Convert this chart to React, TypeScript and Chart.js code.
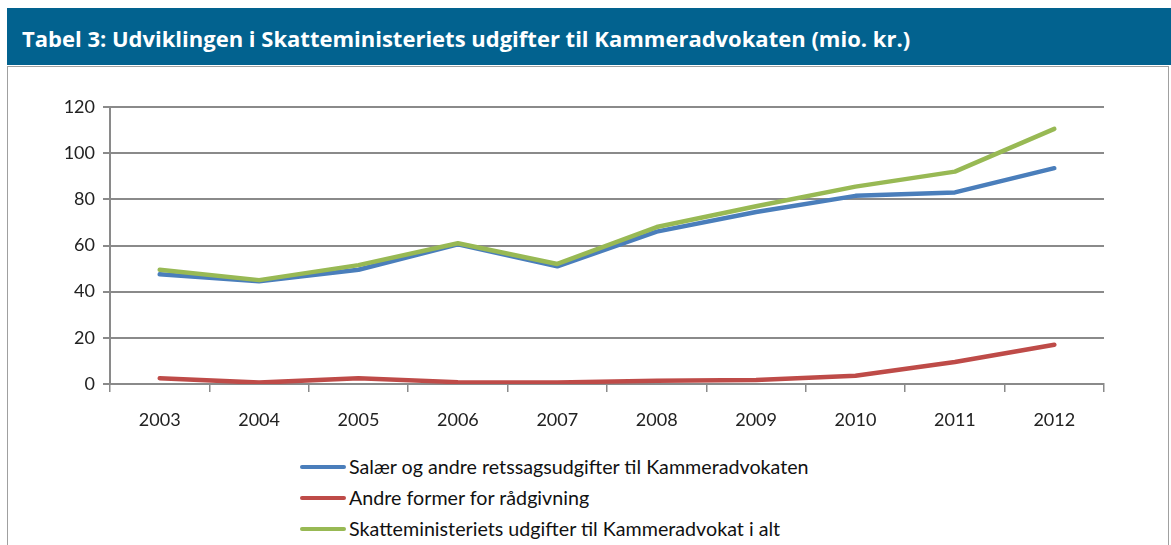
import React, { useEffect, useRef } from "react";
import { Chart, registerables } from "chart.js";

Chart.register(...registerables);

const title = "Tabel 3: Udviklingen i Skatteministeriets udgifter til Kammeradvokaten (mio. kr.)";
const years = ["2003", "2004", "2005", "2006", "2007", "2008", "2009", "2010", "2011", "2012"];
const salaer = [47.5, 44.5, 49.5, 60.5, 51, 66, 74.5, 81.5, 83, 93.5];
const andre = [2.5, 0.6, 2.5, 0.8, 0.7, 1.4, 1.7, 3.6, 9.5, 17];
const iAlt = [49.5, 45, 51.5, 61, 52, 68, 77, 85.5, 92, 110.5];
const seriesNames = [
  "Salær og andre retssagsudgifter til Kammeradvokaten",
  "Andre former for rådgivning",
  "Skatteministeriets udgifter til Kammeradvokat i alt",
];
const seriesColors = ["#4a7ebb", "#be4b48", "#98b954"];

const FONT = "Lato, 'Open Sans', sans-serif";

export default function App() {
  const ref = useRef<HTMLCanvasElement | null>(null);

  useEffect(() => {
    if (!ref.current) return;
    const values = [salaer, andre, iAlt];
    const orders = [1, 2, 0];
    const chart = new Chart(ref.current, {
      type: "line",
      data: {
        labels: years,
        datasets: values.map((v, i) => ({
          label: seriesNames[i],
          data: v,
          borderColor: seriesColors[i],
          backgroundColor: seriesColors[i],
          borderWidth: 4.5,
          pointRadius: 0,
          tension: 0,
          fill: false,
          order: orders[i],
          borderCapStyle: "round" as const,
          borderJoinStyle: "round" as const,
        })),
      },
      options: {
        animation: false,
        responsive: false,
        maintainAspectRatio: false,
        layout: { padding: { left: 10, right: 67, top: 40, bottom: 0 } },
        plugins: { legend: { display: false }, tooltip: { enabled: false } },
        scales: {
          x: {
            offset: true,
            grid: {
              offset: true,
              drawOnChartArea: false,
              drawTicks: true,
              tickLength: 8,
              color: "#8a8a8a",
              lineWidth: 1.5,
            },
            border: { color: "#8a8a8a", width: 2 },
            ticks: { color: "#222", font: { family: FONT, size: 18 }, padding: 17 },
            afterFit: (s: any) => {
              s.height = 63;
            },
          },
          y: {
            min: 0,
            max: 120,
            ticks: { stepSize: 20, color: "#222", font: { family: FONT, size: 18 }, padding: 8 },
            grid: { color: "#8a8a8a", lineWidth: 2, tickLength: 7 },
            border: { color: "#8a8a8a", width: 2 },
            afterFit: (s: any) => {
              s.width = 100;
            },
          },
        },
      },
    });
    return () => chart.destroy();
  }, []);

  return (
    <div
      style={{
        position: "fixed",
        left: 0,
        top: 0,
        width: 1171,
        height: 545,
        background: "#fff",
        overflow: "hidden",
        fontFamily: FONT,
      }}
    >
      <div
        style={{
          position: "absolute",
          left: 7,
          top: 66,
          width: 1160,
          height: 500,
          borderLeft: "1.5px solid #a0a0a0",
          borderRight: "1.5px solid #a0a0a0",
          borderTop: "1.5px solid #a0a0a0",
        }}
      />
      <div
        style={{
          position: "absolute",
          left: 7,
          top: 8,
          width: 1164,
          height: 57,
          background: "#02628f",
          color: "#fff",
          fontFamily: "'Open Sans', Lato, sans-serif",
          fontWeight: 700,
          fontSize: 22,
          lineHeight: "60px",
          paddingLeft: 15,
          boxSizing: "border-box",
          whiteSpace: "nowrap",
        }}
      >
        {title}
      </div>
      <canvas
        ref={ref}
        width={1171}
        height={380}
        style={{ position: "absolute", left: 0, top: 67, width: 1171, height: 380 }}
      />
      <div style={{ position: "absolute", left: 300, top: 451 }}>
        {seriesNames.map((n, i) => (
          <div key={n} style={{ display: "flex", alignItems: "center", height: 31 }}>
            <div
              style={{
                width: 46,
                height: 4,
                borderRadius: 2,
                background: seriesColors[i],
                marginRight: 3,
              }}
            />
            <span style={{ fontSize: 19.7, color: "#111" }}>{n}</span>
          </div>
        ))}
      </div>
    </div>
  );
}
